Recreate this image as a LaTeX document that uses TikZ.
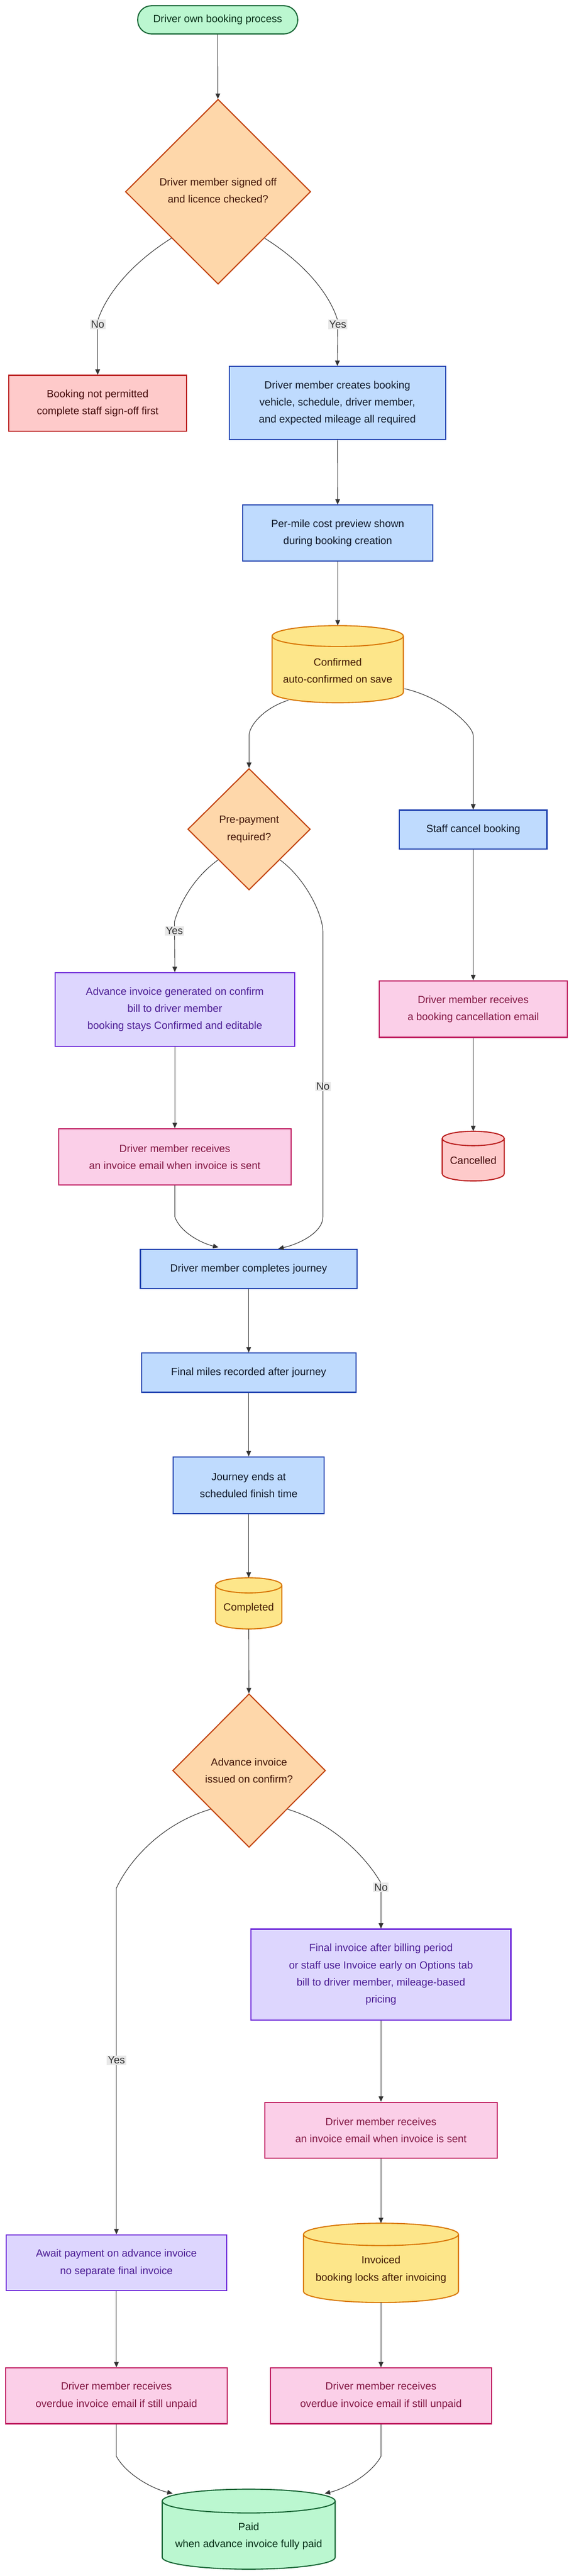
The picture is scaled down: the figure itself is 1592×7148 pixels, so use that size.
\documentclass[tikz,border=0pt]{standalone}
\usepackage{fontspec}
\setmainfont{Liberation Sans}
\usetikzlibrary{shapes.geometric,arrows.meta,calc}
\definecolor{gF}{HTML}{BBF7D0}\definecolor{gD}{HTML}{166534}\definecolor{gT}{HTML}{052E16}
\definecolor{oF}{HTML}{FED7AA}\definecolor{oD}{HTML}{C2410C}\definecolor{oT}{HTML}{431407}
\definecolor{rF}{HTML}{FECACA}\definecolor{rD}{HTML}{B91C1C}\definecolor{rT}{HTML}{450A0A}
\definecolor{bF}{HTML}{BFDBFE}\definecolor{bD}{HTML}{1E40AF}\definecolor{bT}{HTML}{0F172A}
\definecolor{yF}{HTML}{FDE68A}\definecolor{yD}{HTML}{D97706}\definecolor{yT}{HTML}{451A03}
\definecolor{pF}{HTML}{DDD6FE}\definecolor{pD}{HTML}{6D28D9}\definecolor{pT}{HTML}{4C1D95}
\definecolor{kF}{HTML}{FBCFE8}\definecolor{kD}{HTML}{BE185D}\definecolor{kT}{HTML}{831843}
\definecolor{eC}{HTML}{333333}\definecolor{lF}{HTML}{E8E8E8}
\newcommand\mycyl[8]{% name cx cy hw hh ry style text
 \path[#7] ({#2-#4},{#3-#5+#6}) -- ({#2-#4},{#3+#5-#6}) arc[start angle=180,end angle=360,x radius=#4pt,y radius=#6pt] -- ({#2+#4},{#3-#5+#6});
 \path[#7] (#2,{#3-#5+#6}) ellipse[x radius=#4pt,y radius=#6pt];
 \node[inner sep=0,minimum width=2*#4pt,minimum height=2*#5pt] (#1) at (#2,#3) {};
 \node[txt,#7,draw=none,fill=none] at (#2,{#3+#6*0.6}) {#8};
}
\begin{document}
\begin{tikzpicture}[x=1pt,y=-1pt,
 txt/.style={font=\fontsize{29}{47.5}\selectfont,align=center},
 box/.style={txt,rectangle,line width=3pt,inner sep=0},
 blue/.style={fill=bF,draw=bD,text=bT},
 purp/.style={fill=pF,draw=pD,text=pT},
 pink/.style={fill=kF,draw=kD,text=kT},
 redb/.style={fill=rF,draw=rD,text=rT},
 yel/.style={fill=yF,draw=yD,text=yT,line width=3pt},
 grn/.style={fill=gF,draw=gD,text=gT,line width=3pt},
 redc/.style={fill=rF,draw=rD,text=rT,line width=3pt},
 dia/.style={diamond,fill=oF,draw=oD,line width=3pt,inner sep=0},
 edge/.style={draw=eC,line width=1.6pt,-{Triangle[length=15pt,width=13pt]}},
 lab/.style={txt,fill=lF,text=eC,inner sep=3pt}]
\useasboundingbox[fill=white] (0,0) rectangle (1592,7148);
% nodes
\node[box,fill=gF,draw=gD,text=gT,rounded corners=38pt,minimum width=444pt,minimum height=78pt] (start) at (604,55) {Driver own booking process};
\node[dia,minimum width=514pt,minimum height=513pt] (d1) at (605,532) {};
\node[txt,text=oT] at (605,529) {Driver member signed off\\and licence checked?};
\node[box,redb,minimum width=493pt,minimum height=155pt] (np) at (271,1119) {Booking not permitted\\complete staff sign-off first};
\node[box,blue,minimum width=600pt,minimum height=202pt] (create) at (936,1118) {Driver member creates booking\\vehicle, schedule, driver member,\\and expected mileage all required};
\node[box,blue,minimum width=528pt,minimum height=155pt] (prev) at (937,1479) {Per-mile cost preview shown\\during booking creation};
\mycyl{conf}{937}{1843}{182}{107}{29}{yel}{Confirmed\\auto-confirmed on save}
\node[dia,minimum width=340pt,minimum height=337pt] (d2) at (691,2301) {};
\node[txt,text=oT] at (691,2301) {Pre-payment\\required?};
\node[box,blue,minimum width=409pt,minimum height=108pt] (staff) at (1313,2302) {Staff cancel booking};
\node[box,purp,minimum width=665pt,minimum height=204pt] (adv) at (485,2801) {Advance invoice generated on confirm\\bill to driver member\\booking stays Confirmed and editable};
\node[box,pink,minimum width=645pt,minimum height=156pt] (em1) at (485,3210) {Driver member receives\\an invoice email when invoice is sent};
\node[box,pink,minimum width=522pt,minimum height=157pt] (cem) at (1313,2800) {Driver member receives\\a booking cancellation email};
\mycyl{canc}{1313}{3208}{86}{69}{20}{redc}{Cancelled}
\node[box,blue,minimum width=601pt,minimum height=108pt] (comp) at (690,3521) {Driver member completes journey};
\node[box,blue,minimum width=595pt,minimum height=109pt] (miles) at (690,3809) {Final miles recorded after journey};
\node[box,blue,minimum width=419pt,minimum height=157pt] (jend) at (690,4121) {Journey ends at\\scheduled finish time};
\mycyl{done}{690}{4449}{92}{71}{21}{yel}{Completed}
\node[dia,minimum width=424pt,minimum height=426pt] (d3) at (691,4913) {};
\node[txt,text=oT] at (691,4913) {Advance invoice\\issued on confirm?};
\node[box,purp,minimum width=721pt,minimum height=252pt] (fin) at (1057,5479) {Final invoice after billing period\\or staff use Invoice early on Options tab\\bill to driver member, mileage-based\\pricing};
\node[box,pink,minimum width=644pt,minimum height=155pt] (em2) at (1057,5911) {Driver member receives\\an invoice email when invoice is sent};
\mycyl{inv}{1057}{6279}{215}{110}{31}{yel}{Invoiced\\booking locks after invoicing};
\node[box,purp,minimum width=612pt,minimum height=155pt] (await) at (323,6279) {Await payment on advance invoice\\no separate final invoice};
\node[box,pink,minimum width=615pt,minimum height=155pt] (odl) at (323,6648) {Driver member receives\\overdue invoice email if still unpaid};
\node[box,pink,minimum width=614pt,minimum height=155pt] (odr) at (1057,6648) {Driver member receives\\overdue invoice email if still unpaid};
\mycyl{paid}{690}{7018}{240}{111}{33}{grn}{Paid\\when advance invoice fully paid};
% edges
\draw[edge] (start) -- (d1);
\coordinate (a1) at ($(d1.west)!0.5!(d1.south)$);
\coordinate (a2) at ($(d1.east)!0.5!(d1.south)$);
\draw[edge] (a1) .. controls (350,740) and (290,830) .. (271,890) -- (np.north);
\node[lab] at (271,900) {No};
\draw[edge] (a2) .. controls (860,740) and (920,830) .. (937,890) -- (create.north);
\node[lab] at (937,900) {Yes};
\draw[edge] (create) -- (prev);
\draw[edge] (prev) -- (conf.north);
\coordinate (c1) at (800,1943);
\coordinate (c2) at (1122,1911);
\draw[edge] (c1) .. controls (730,1965) and (691,2015) .. (691,2041) -- (d2.north);
\draw[edge] (c2) .. controls (1230,1935) and (1313,2015) .. (1313,2041) -- (staff.north);
\coordinate (b1) at ($(d2.west)!0.5!(d2.south)$);
\coordinate (b2) at ($(d2.east)!0.5!(d2.south)$);
\draw[edge] (b1) .. controls (530,2440) and (494,2520) .. (484,2558) -- (adv.north);
\node[lab] at (484,2583) {Yes};
\coordinate (cj1) at (772,3465);
\coordinate (cj2) at (606,3461);
\draw[edge] (b2) .. controls (850,2440) and (896,2540) .. (896,2586) -- (896,3376) .. controls (896,3420) and (830,3452) .. (cj1);
\node[lab] at (896,3015) {No};
\draw[edge] (adv) -- (em1);
\draw[edge] (em1.south) -- (485,3376) .. controls (500,3420) and (560,3450) .. (cj2);
\draw[edge] (staff) -- (cem);
\draw[edge] (cem) -- (canc.north);
\draw[edge] (comp) -- (miles);
\draw[edge] (miles) -- (jend);
\draw[edge] (jend) -- (done.north);
\draw[edge] (done) -- (d3);
\coordinate (f1) at ($(d3.west)!0.5!(d3.south)$);
\coordinate (f2) at ($(d3.east)!0.5!(d3.south)$);
\draw[edge] (f1) .. controls (450,5060) and (360,5160) .. (323,5239) -- (await.north);
\node[lab] at (323,5717) {Yes};
\draw[edge] (f2) .. controls (930,5060) and (1020,5160) .. (1057,5225) -- (fin.north);
\node[lab] at (1057,5237) {No};
\draw[edge] (fin) -- (em2);
\draw[edge] (em2) -- (inv.north);
\draw[edge] (inv) -- (odr);
\draw[edge] (await) -- (odl);
\coordinate (p1) at (479,6919);
\coordinate (p2) at (901,6919);
\draw[edge] (odl.south) -- (323,6816) .. controls (350,6865) and (420,6905) .. (p1);
\draw[edge] (odr.south) -- (1057,6816) .. controls (1030,6865) and (960,6905) .. (p2);
\end{tikzpicture}
\end{document}
